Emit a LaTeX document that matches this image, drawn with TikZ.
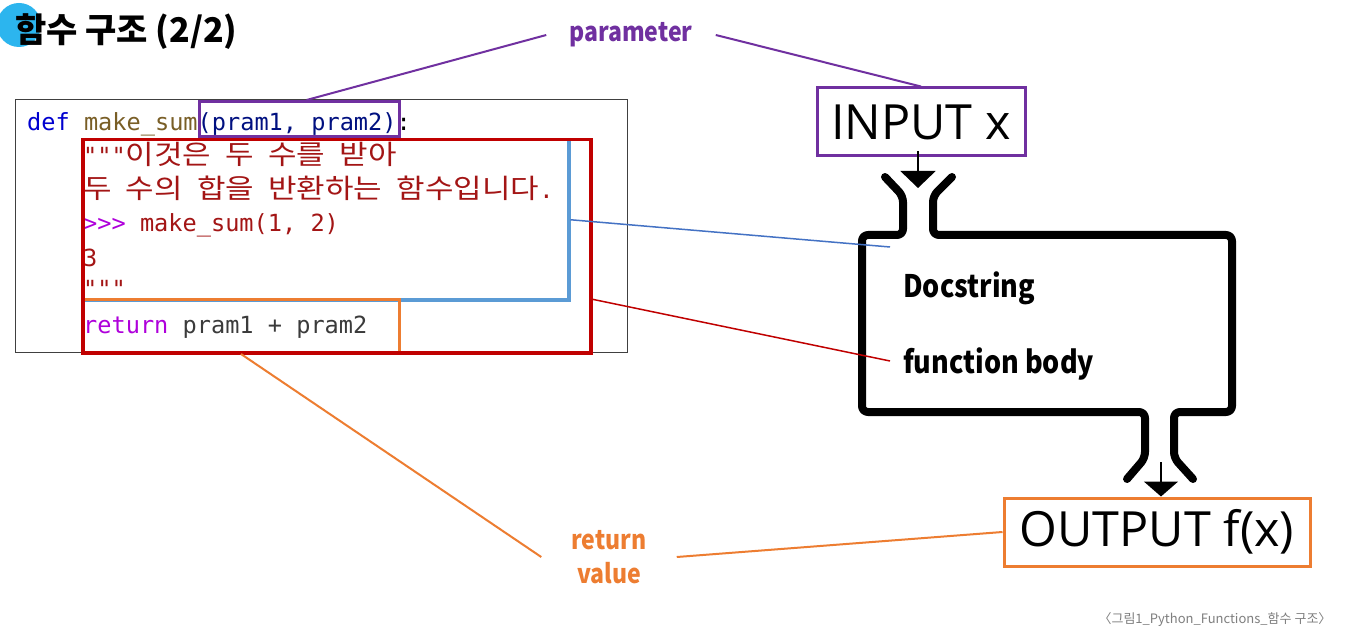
\documentclass[tikz,border=0pt]{standalone}
\usepackage{fontspec}
\setmainfont{Open Sans}
\newfontfamily\kr{Noto Sans CJK KR}
\newfontfamily\krw{Noto Sans CJK KR}[FakeStretch=1.148]
\newfontfamily\krc{Noto Sans CJK KR}[FakeStretch=0.87]
\newfontfamily\codefont{DejaVu Sans Mono}
\newfontfamily\opensans{Open Sans}
\usetikzlibrary{arrows.meta,calc}
\definecolor{kwblue}{HTML}{0000D0}
\definecolor{fnbrown}{HTML}{795E26}
\definecolor{prnavy}{HTML}{001080}
\definecolor{dred}{HTML}{A31515}
\definecolor{kwmag}{HTML}{AF00DB}
\definecolor{codegray}{HTML}{3B3B3B}
\definecolor{ppurple}{HTML}{7030A0}
\definecolor{bred}{HTML}{C00000}
\definecolor{bblue}{HTML}{5B9BD5}
\definecolor{lblue}{HTML}{4472C4}
\definecolor{borange}{HTML}{ED7D31}
\definecolor{cyanc}{HTML}{2CB5EE}
\definecolor{capgray}{HTML}{7F7F7F}
\newcommand\K[1]{{\krw\fontsize{27}{30}\selectfont #1}}
\begin{document}
\begin{tikzpicture}[x=1pt,y=-1pt,
  codeline/.style={anchor=base west, inner sep=0pt, font=\codefont\fontsize{23.6}{28}\selectfont},
  boxnode/.style={anchor=north west, inner sep=0pt, minimum width=#1},
  labelb/.style={inner sep=0pt, font=\krc\bfseries\fontsize{31}{36}\selectfont},
  funnel/.style={line width=8pt, line cap=round, line join=round, rounded corners=6pt},
  iobox/.style={draw, line width=3pt, inner sep=0pt, font=\opensans\fontsize{48.5}{52}\selectfont}]
\useasboundingbox (0,0) rectangle (1366,639);
\fill[white] (0,0) rectangle (1366,639);
% title
\fill[cyanc] (19,25) circle (22);
\node[anchor=base west, inner sep=0pt, font=\kr\bfseries\fontsize{34}{38}\selectfont] (title) at (15,43) {함수 구조 (2/2)};
% code box
\node[boxnode=612pt, minimum height=253pt, draw=black!75, line width=1pt] (codebox) at (15,99) {};
% code lines
\node[codeline] (c1) at (27,131) {\textcolor{kwblue}{def} \textcolor{fnbrown}{make\_sum}\textcolor{prnavy}{(pram1, pram2)}:};
\node[codeline, text=dred] (c2) at (83,165) {"""\K{이것은} \K{두} \K{수를} \K{받아}};
\node[codeline, text=dred] (c3) at (83,199) {\K{두} \K{수의} \K{합을} \K{반환하는} \K{함수입니다}.};
\node[codeline, text=dred] (c4) at (83,232) {\textcolor{kwmag}{>>>} make\_sum(1, 2)};
\node[codeline, text=dred] (c5) at (83,266) {3};
\node[codeline, text=dred] (c6) at (83,298) {"""};
\node[codeline, text=codegray] (c7) at (83,334) {\textcolor{kwmag}{return} pram1 + pram2};
% highlight boxes
\node[boxnode=200pt, minimum height=35pt, draw=ppurple, line width=3pt] (pbox) at (198,100) {};
\node[boxnode=486pt, minimum height=160pt, draw=bblue, line width=3.5pt] (bbox) at (81,138) {};
\node[boxnode=317pt, minimum height=53pt, draw=borange, line width=3pt] (obox) at (81,298) {};
\node[boxnode=508pt, minimum height=213pt, draw=bred, line width=3.5pt] (rbox) at (81,138) {};
% labels
\node[inner xsep=23pt, inner ysep=0pt, text=ppurple, font=\krc\bfseries\fontsize{26.5}{30}\selectfont] (param) at (631,35) {parameter};
\node[inner xsep=30pt, inner ysep=0pt, text=borange, align=center, font=\krc\bfseries\fontsize{26.5}{34}\selectfont] (rv) at (609,557) {return\\value};
\node[labelb, anchor=base west] (ds) at (903,298) {Docstring};
\node[labelb, anchor=base west, inner xsep=0pt] (fbt) at (903,373) {function body};
\coordinate (fb) at (890,361);
\coordinate (dsend) at (890,247);
% right diagram
\node[iobox, draw=ppurple, minimum width=208pt, minimum height=68pt] (in) at (921,122) {INPUT x};
\node[iobox, draw=borange, minimum width=306pt, minimum height=68pt] (out) at (1157,532) {OUTPUT f(x)};
\draw[funnel] (885,177) -- (903,196) -- (903,235) -- (862,235) -- (862,412) -- (1145,412) -- (1145,458) -- (1127,479);
\draw[funnel] (952,177) -- (933,196) -- (933,235) -- (1232,235) -- (1232,412) -- (1174,412) -- (1174,458) -- (1193,479);
\coordinate (inarrow) at (918,151);
\coordinate (intip) at (918,188);
\draw[line width=2pt, -{Triangle[width=35pt,length=17pt]}] (inarrow) -- (intip);
\coordinate (outarrow) at (1161,462);
\draw[line width=2pt, -{Triangle[width=34pt,length=15pt]}] (outarrow) -- (out.north -| outarrow);
% connectors
\draw[ppurple, line width=2pt] (param.west) -- ($(pbox.north west)!0.535!(pbox.north east)$);
\draw[ppurple, line width=2pt] (param.east) -- (in.north);
\draw[lblue, line width=1.5pt] (bbox.east) -- (dsend);
\draw[bred, line width=1.5pt] ($(rbox.north east)!0.745!(rbox.south east)$) -- (fb);
\draw[borange, line width=2pt] (obox.south) -- (rv.west);
\draw[borange, line width=2pt] (rv.east) -- (out.west);
% caption
\node[inner sep=0pt, text=capgray, font=\kr\fontsize{13}{15}\selectfont] (cap) at (1215,620) {〈그림1\_Python\_Functions\_함수 구조〉};
\end{tikzpicture}
\end{document}
